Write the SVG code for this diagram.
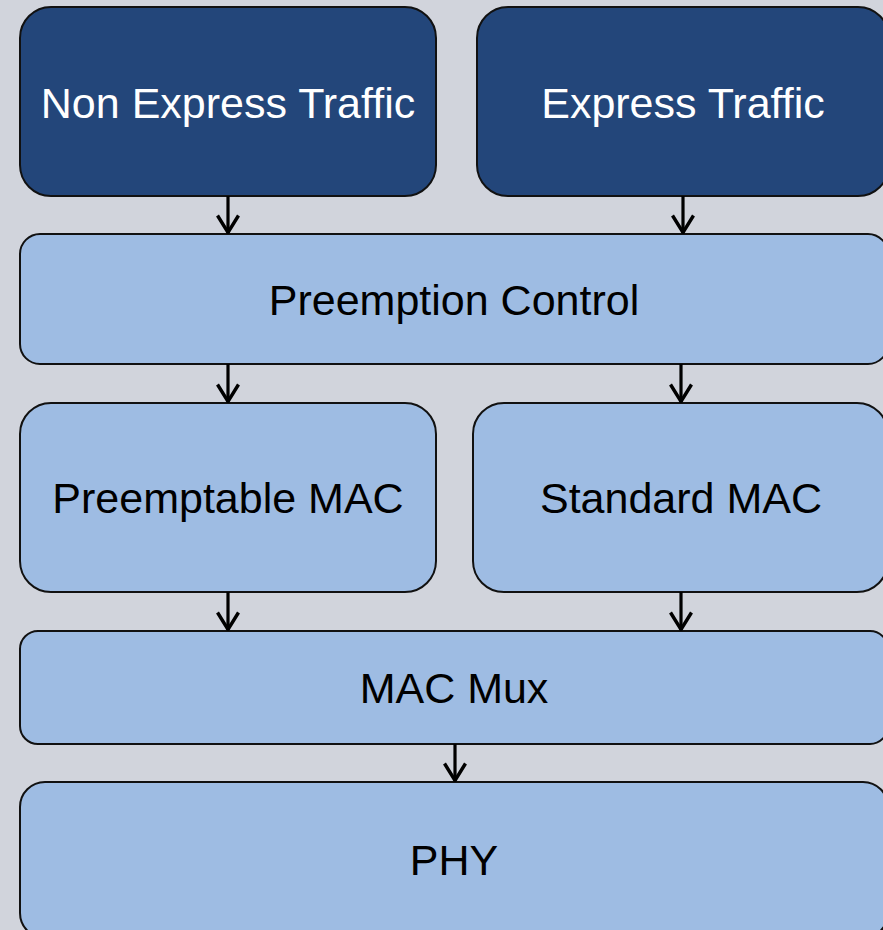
<svg xmlns="http://www.w3.org/2000/svg" width="883" height="930" viewBox="0 0 883 930">
  <defs>
    <style>
      .dark { fill: #23467A; stroke: #111; stroke-width: 2; }
      .light { fill: #9EBCE3; stroke: #111; stroke-width: 2; }
      .lbl { font-family: "Liberation Sans", Arial, sans-serif; font-size: 43px; text-anchor: middle; }
      .lbl-w { fill: #ffffff; }
      .lbl-b { fill: #000000; }
      .conn { stroke: #000; stroke-width: 3.2; fill: none; marker-end: url(#vhead); }
    </style>
    <marker id="vhead" viewBox="0 0 24 20" refX="12" refY="19" markerWidth="24" markerHeight="20" markerUnits="userSpaceOnUse" orient="0">
      <path d="M1.5,1.5 L12,18.5 L22.5,1.5" fill="none" stroke="#000" stroke-width="3.4" stroke-linejoin="miter"/>
    </marker>
  </defs>

  <rect x="0" y="0" width="883" height="930" fill="#D1D4DC"/>

  <g id="non-express-traffic">
    <rect class="dark" x="20" y="7" width="416" height="189" rx="31" ry="31"/>
    <text class="lbl lbl-w" x="228" y="118">Non Express Traffic</text>
  </g>

  <g id="express-traffic">
    <rect class="dark" x="477" y="7" width="412" height="189" rx="31" ry="31"/>
    <text class="lbl lbl-w" x="683" y="118">Express Traffic</text>
  </g>

  <g id="preemption-control">
    <rect class="light" x="20" y="234" width="868" height="130" rx="20" ry="20"/>
    <text class="lbl lbl-b" x="454" y="315">Preemption Control</text>
  </g>

  <g id="preemptable-mac">
    <rect class="light" x="20" y="403" width="416" height="189" rx="31" ry="31"/>
    <text class="lbl lbl-b" x="228" y="513">Preemptable MAC</text>
  </g>

  <g id="standard-mac">
    <rect class="light" x="473" y="403" width="415" height="189" rx="31" ry="31"/>
    <text class="lbl lbl-b" x="681" y="513">Standard MAC</text>
  </g>

  <g id="mac-mux">
    <rect class="light" x="20" y="631" width="868" height="113" rx="18" ry="18"/>
    <text class="lbl lbl-b" x="454" y="703">MAC Mux</text>
  </g>

  <g id="phy">
    <rect class="light" x="20" y="782" width="868" height="156" rx="25" ry="25"/>
    <text class="lbl lbl-b" x="454" y="875">PHY</text>
  </g>

  <g id="connectors">
    <line class="conn" x1="228" y1="196" x2="228" y2="233"/>
    <line class="conn" x1="683" y1="196" x2="683" y2="233"/>
    <line class="conn" x1="228" y1="364" x2="228" y2="402"/>
    <line class="conn" x1="681" y1="364" x2="681" y2="402"/>
    <line class="conn" x1="228" y1="592" x2="228" y2="630"/>
    <line class="conn" x1="681" y1="592" x2="681" y2="630"/>
    <line class="conn" x1="455" y1="744" x2="455" y2="781"/>
  </g>
</svg>
